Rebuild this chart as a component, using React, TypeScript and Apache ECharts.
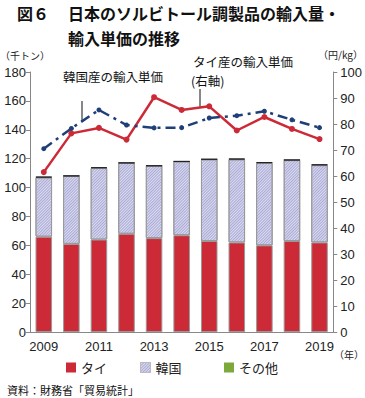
import React, { useEffect, useRef } from "react";
import * as echarts from "echarts";

const years = ["2009", "2010", "2011", "2012", "2013", "2014", "2015", "2016", "2017", "2018", "2019"];
const thaiVolume = [66, 61, 64, 68, 65, 67, 63, 62, 60, 63, 62];
const koreaVolume = [41, 47, 49.5, 49, 50, 51, 56.5, 57.5, 57, 56, 53.5];
const otherVolume = [0.5, 0.2, 0.5, 0.2, 0.2, 0.2, 0.2, 0.5, 0.5, 0.2, 0.5];
const thaiPrice = [61.5, 76.4, 78.5, 74, 90.3, 85.4, 86.8, 77.5, 82.7, 78.1, 74.2];
const koreaPrice = [70.5, 78.3, 85.4, 79.6, 78.5, 78.6, 82.3, 83.2, 84.9, 81.6, 78.6];

const FONT = "'Liberation Sans', 'Noto Sans CJK JP', sans-serif";
const JP = "'Noto Sans CJK JP', sans-serif";

export default function App() {
  const ref = useRef<HTMLDivElement>(null);
  useEffect(() => {
    if (!ref.current) return;
    const chart = echarts.init(ref.current, null, { renderer: "svg" });
    const hatch = {
      symbol: "rect",
      symbolSize: 1,
      dashArrayX: [1, 0],
      dashArrayY: [1, 1],
      rotation: -Math.PI / 4,
      color: "#aaaad6",
    };
    const legendBase = {
      top: 361,
      itemWidth: 10,
      itemHeight: 10,
      itemGap: 5,
      icon: "rect",
      textStyle: { fontFamily: JP, fontSize: 13, color: "#222" },
      padding: 0,
    };
    chart.setOption({
      animation: false,
      backgroundColor: "#fff",
      grid: { left: 30, right: 30, top: 72, bottom: 66 },
      graphic: [
        { type: "text", left: 17, top: 5, style: { text: "図６", font: `bold 16px ${JP}`, fill: "#111" } },
        { type: "text", left: 68, top: 5, style: { text: "日本のソルビトール調製品の輸入量・", font: `bold 16px ${JP}`, fill: "#111" } },
        { type: "text", left: 68, top: 30, style: { text: "輸入単価の推移", font: `bold 16px ${JP}`, fill: "#111" } },
        { type: "text", left: 0, top: 50, style: { text: "（千トン）", font: `10px ${JP}`, fill: "#222" } },
        { type: "text", left: 318, top: 49, style: { text: "（円/kg）", font: `10px ${JP}`, fill: "#222" } },
        { type: "text", left: 334, top: 349, style: { text: "（年）", font: `10px ${JP}`, fill: "#222" } },
        { type: "text", left: 63, top: 70, style: { text: "韓国産の輸入単価", font: `12.5px ${JP}`, fill: "#111" } },
        { type: "line", shape: { x1: 82, y1: 101, x2: 82, y2: 121 }, style: { stroke: "#111", lineWidth: 1 } },
        { type: "text", left: 193, top: 55, style: { text: "タイ産の輸入単価", font: `12.5px ${JP}`, fill: "#111" } },
        { type: "text", left: 191, top: 74, style: { text: "(右軸)", font: `12.5px ${JP}`, fill: "#111" } },
        { type: "line", shape: { x1: 200, y1: 89, x2: 200, y2: 108 }, style: { stroke: "#111", lineWidth: 1 } },
        { type: "text", left: 7, top: 384, style: { text: "資料：財務省「貿易統計」", font: `11px ${JP}`, fill: "#111" } },
      ],
      legend: [
        { ...legendBase, left: 66, data: ["タイ"], itemStyle: { borderWidth: 0 } },
        { ...legendBase, left: 140, data: ["韓国"], itemStyle: { borderColor: "#bbb", borderWidth: 1 } },
        { ...legendBase, left: 224, data: ["その他"], itemStyle: { borderWidth: 0 } },
      ],
      xAxis: {
        type: "category",
        data: years,
        axisLine: { lineStyle: { color: "#888" } },
        axisTick: { interval: 1, length: 5, lineStyle: { color: "#888" } },
        axisLabel: { interval: 1, fontFamily: FONT, fontSize: 13, color: "#222", margin: 8 },
      },
      yAxis: [
        {
          type: "value",
          min: 0,
          max: 180,
          interval: 20,
          splitLine: { show: false },
          axisLine: { show: true, lineStyle: { color: "#888" } },
          axisTick: { show: true, length: 4, lineStyle: { color: "#888" } },
          axisLabel: { fontFamily: FONT, fontSize: 13, color: "#222", margin: 4 },
        },
        {
          type: "value",
          min: 0,
          max: 100,
          interval: 10,
          splitLine: { show: false },
          axisLine: { show: true, lineStyle: { color: "#888" } },
          axisTick: { show: true, length: 4, lineStyle: { color: "#888" } },
          axisLabel: { fontFamily: FONT, fontSize: 13, color: "#222", margin: 7 },
        },
      ],
      series: [
        {
          name: "タイ",
          type: "bar",
          stack: "v",
          barWidth: "60%",
          data: thaiVolume,
          itemStyle: { color: "#cc2a36", borderColor: "#999", borderWidth: 1 },
        },
        {
          name: "韓国",
          type: "bar",
          stack: "v",
          data: koreaVolume,
          itemStyle: { color: "#dcdcf0", borderColor: "#999", borderWidth: 1, decal: hatch },
        },
        {
          name: "その他",
          type: "bar",
          stack: "v",
          data: otherVolume,
          itemStyle: { color: "#7da83c", borderColor: "#222", borderWidth: 1 },
        },
        {
          name: "タイ産の輸入単価",
          type: "line",
          yAxisIndex: 1,
          data: thaiPrice,
          symbol: "circle",
          symbolSize: 6,
          z: 5,
          lineStyle: { color: "#cc2a36", width: 2.5 },
          itemStyle: { color: "#cc2a36" },
        },
        {
          name: "韓国産の輸入単価",
          type: "line",
          yAxisIndex: 1,
          data: koreaPrice,
          symbol: "circle",
          symbolSize: 5,
          z: 5,
          lineStyle: { color: "#1f3f78", width: 2.5, type: [10, 5, 3, 5] },
          itemStyle: { color: "#1f3f78" },
        },
      ],
    });
    return () => chart.dispose();
  }, []);
  return <div ref={ref} style={{ width: 365, height: 398, position: "absolute", left: 0, top: 0 }} />;
}
